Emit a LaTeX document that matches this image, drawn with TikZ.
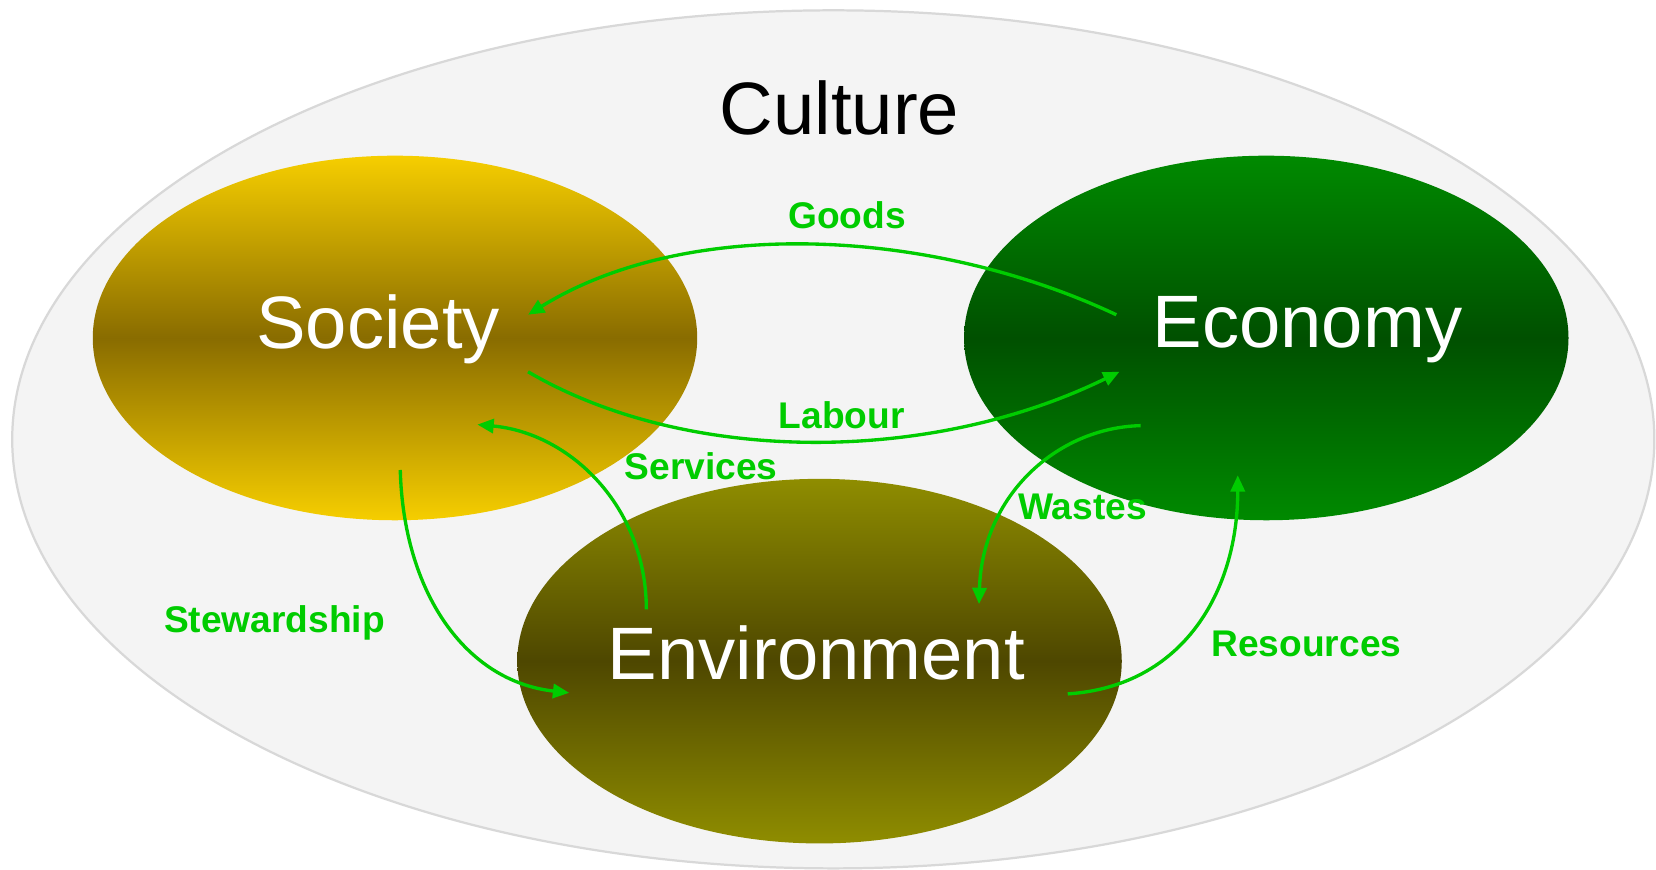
\documentclass[tikz,border=0pt]{standalone}
\usepackage{fontspec}
\setmainfont{Liberation Sans}
\usetikzlibrary{shapes.geometric,arrows.meta}
\definecolor{bgfill}{HTML}{F4F4F4}
\definecolor{bgline}{HTML}{D8D8D8}
\definecolor{flowgreen}{HTML}{00CC00}
\definecolor{socA}{HTML}{F6CE00}
\definecolor{socB}{HTML}{896C00}
\definecolor{ecoA}{HTML}{008A00}
\definecolor{ecoB}{HTML}{005000}
\definecolor{envA}{HTML}{8F8D00}
\definecolor{envB}{HTML}{4E4700}
\tikzset{
  blob/.style={ellipse, inner sep=0pt, minimum width=5.72cm, minimum height=3.45cm, draw=none},
  bigtext/.style={text=white, font=\fontsize{20}{24}\selectfont, inner sep=0pt},
  flowlabel/.style={text=flowgreen, font=\bfseries\fontsize{10}{12}\selectfont, inner sep=0pt},
  flow/.style={draw=flowgreen, line width=0.9pt, -{Triangle[length=4.4pt,width=3.8pt]}}
}
\begin{document}
\begin{tikzpicture}[x=0.01cm,y=-0.01cm]
\useasboundingbox (0,0) rectangle (1568,823);
\fill[white] (0,0) rectangle (1568,823);
% outer culture ellipse
\node[ellipse, draw=bgline, fill=bgfill, line width=0.6pt, inner sep=0pt,
      minimum width=15.54cm, minimum height=8.12cm] (cult) at (789,416) {};
\node[text=black, font=\fontsize{20}{24}\selectfont, inner sep=0pt] (cultT) at (795,102) {Culture};
% three spheres
\node[blob, top color=socA, bottom color=socA, middle color=socB] (soc) at (374,320) {};
\node[blob, top color=ecoA, bottom color=ecoA, middle color=ecoB] (eco) at (1199,320) {};
\node[blob, top color=envA, bottom color=envA, middle color=envB] (env) at (776,626) {};
\node[bigtext] (socT) at (358,312) {Society};
\node[bigtext] (ecoT) at (1238,312) {Economy};
\node[bigtext] (envT) at (773,618) {Environment};
% connector end points
\coordinate (gA) at (1057,298);
\coordinate (gB) at (500,298);
\coordinate (lA) at (500,352);
\coordinate (lB) at (1060,352);
\coordinate (sA) at (612,577);
\coordinate (sB) at (452,402);
\coordinate (wA) at (1080,403);
\coordinate (wB) at (927,572);
\coordinate (stA) at (379,445);
\coordinate (stB) at (539,656);
\coordinate (rA) at (1011,657);
\coordinate (rB) at (1172,450);
% connectors
\draw[flow] (gA) .. controls (880,215) and (650,205) .. (gB);
\draw[flow] (lA) .. controls (650,440) and (880,440) .. (lB);
\draw[flow] (sA) .. controls (612,480) and (540,410) .. (sB);
\draw[flow] (wA) .. controls (1000,405) and (930,470) .. (wB);
\draw[flow] (stA) .. controls (382,560) and (440,645) .. (stB);
\draw[flow] (rA) .. controls (1120,650) and (1172,560) .. (rB);
% labels
\node[flowlabel] (goodsL) at (802,204) {Goods};
\node[flowlabel] (labourL) at (797,393) {Labour};
\node[flowlabel] (servL) at (664,441) {Services};
\node[flowlabel] (wasteL) at (1025,480) {Wastes};
\node[flowlabel] (stewL) at (260,590) {Stewardship};
\node[flowlabel] (resL) at (1237,610) {Resources};
\end{tikzpicture}
\end{document}
